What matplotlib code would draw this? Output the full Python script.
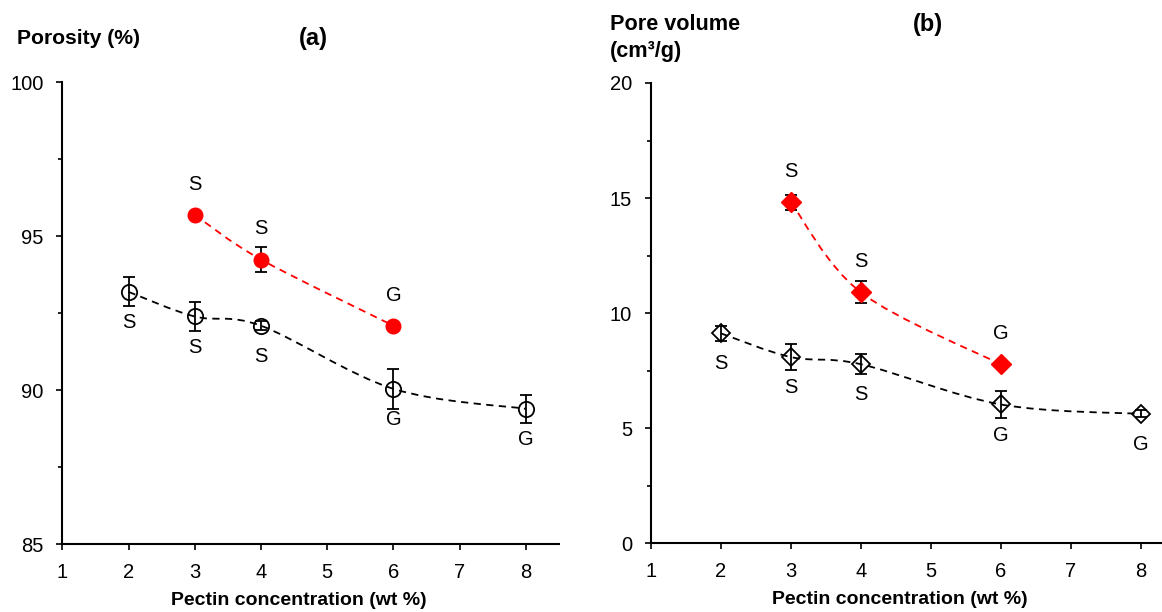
import numpy as np
import matplotlib
matplotlib.use('Agg')
import matplotlib.pyplot as plt
from matplotlib.path import Path
from matplotlib.patches import PathPatch

plt.rcParams['font.family'] = ['Liberation Sans', 'DejaVu Sans']

# (a) porosity
por_x_black = [2, 3, 4, 6, 8]
por_black = [93.2, 92.4, 92.1, 90.05, 89.4]
por_black_err = [0.47, 0.47, 0.15, 0.66, 0.45]
por_black_lab = ['S', 'S', 'S', 'G', 'G']

por_x_red = [3, 4, 6]
por_red = [95.7, 94.25, 92.1]
por_red_err = [0.05, 0.4, 0.1]
por_red_lab = ['S', 'S', 'G']

# (b) pore volume
vol_x_black = [2, 3, 4, 6, 8]
vol_black = [9.12, 8.09, 7.78, 6.03, 5.62]
vol_black_err = [0.33, 0.55, 0.43, 0.59, 0.15]
vol_black_lab = ['S', 'S', 'S', 'G', 'G']

vol_x_red = [3, 4, 6]
vol_red = [14.81, 10.9, 7.77]
vol_red_err = [0.32, 0.48, 0.15]
vol_red_lab = ['S', 'S', 'G']

x_ticks = [1, 2, 3, 4, 5, 6, 7, 8]


# smoothed (Catmull-Rom style) bezier path through the points, like Excel's smoothed line
def smooth_path(xs, ys):
    pts = np.column_stack([xs, ys]).astype(float)
    n = len(pts)
    verts = [pts[0]]
    codes = [Path.MOVETO]
    for i in range(n - 1):
        p0 = pts[max(i - 1, 0)]
        p1 = pts[i]
        p2 = pts[i + 1]
        p3 = pts[min(i + 2, n - 1)]
        verts += [p1 + (p2 - p0) / 6, p2 - (p3 - p1) / 6, p2]
        codes += [Path.CURVE4] * 3
    return Path(verts, codes)


def draw_series(ax, xs, ys, err, labels, color, marker, ms, filled, above):
    ax.add_patch(PathPatch(smooth_path(xs, ys), fill=False, edgecolor=color,
                           lw=1.3, linestyle=(0, (4, 3)), zorder=1))
    ax.errorbar(xs, ys, yerr=err, fmt='none', ecolor='black', elinewidth=1.3,
                capsize=4.2, capthick=1.3, zorder=2)
    if filled:
        ax.plot(xs, ys, linestyle='none', marker=marker, ms=ms, mfc=color,
                mec=color, zorder=3)
    else:
        ax.plot(xs, ys, linestyle='none', marker=marker, ms=ms, mfc='none',
                mec='black', mew=1.3, zorder=3)
    off = 22 if above else -22
    for x, y, t in zip(xs, ys, labels):
        ax.annotate(t, (x, y), xytext=(0, off), textcoords='offset points',
                    ha='center', va='center', fontsize=14.5)


def style_axes(ax, ymin, ymax, yticks, yminor):
    ax.set_xlim(1, 8.5)
    ax.set_ylim(ymin, ymax)
    ax.set_xticks(x_ticks)
    ax.set_yticks(yticks)
    ax.set_yticks(yminor, minor=True)
    for s in ['top', 'right']:
        ax.spines[s].set_visible(False)
    for s in ['left', 'bottom']:
        ax.spines[s].set_linewidth(1.5)
    ax.tick_params(which='major', direction='out', length=4.5, width=1.2,
                   labelsize=14.5, pad=9)
    ax.tick_params(which='minor', direction='out', length=3, width=1.2)
    ax.set_xlabel('Pectin concentration (wt %)', fontsize=14, fontweight='bold')


fig = plt.figure(figsize=(11.62, 6.12), dpi=100)
ax1 = fig.add_axes([0.0536, 0.1106, 0.4275, 0.7546])
ax2 = fig.add_axes([0.5602, 0.1123, 0.4518, 0.7521])

draw_series(ax1, por_x_black, por_black, por_black_err, por_black_lab,
            'black', 'o', 11, False, False)
draw_series(ax1, por_x_red, por_red, por_red_err, por_red_lab,
            'red', 'o', 10.5, True, True)
style_axes(ax1, 85, 100, [85, 90, 95, 100], [87.5, 92.5, 97.5])
ax1.xaxis.set_label_coords(0.477, -0.104)

draw_series(ax2, vol_x_black, vol_black, vol_black_err, vol_black_lab,
            'black', 'D', 9, False, False)
draw_series(ax2, vol_x_red, vol_red, vol_red_err, vol_red_lab,
            'red', 'D', 10, True, True)
style_axes(ax2, 0, 20, [0, 5, 10, 15, 20], [2.5, 7.5, 12.5, 17.5])
ax2.xaxis.set_label_coords(0.474, -0.104)

fig.text(17 / 1162, 1 - 38 / 612, 'Porosity (%)', ha='left', va='center',
         fontsize=15.2, fontweight='bold')
fig.text(313 / 1162, 1 - 38 / 612, '(a)', ha='center', va='center',
         fontsize=17, fontweight='bold')
fig.text(610 / 1162, 1 - 25 / 612, 'Pore volume', ha='left', va='center',
         fontsize=15.6, fontweight='bold')
fig.text(610 / 1162, 1 - 52 / 612, '(cm³/g)', ha='left', va='center',
         fontsize=15.6, fontweight='bold')
fig.text(928 / 1162, 1 - 25 / 612, '(b)', ha='center', va='center',
         fontsize=17, fontweight='bold')

fig.savefig('out.png', dpi=100)
